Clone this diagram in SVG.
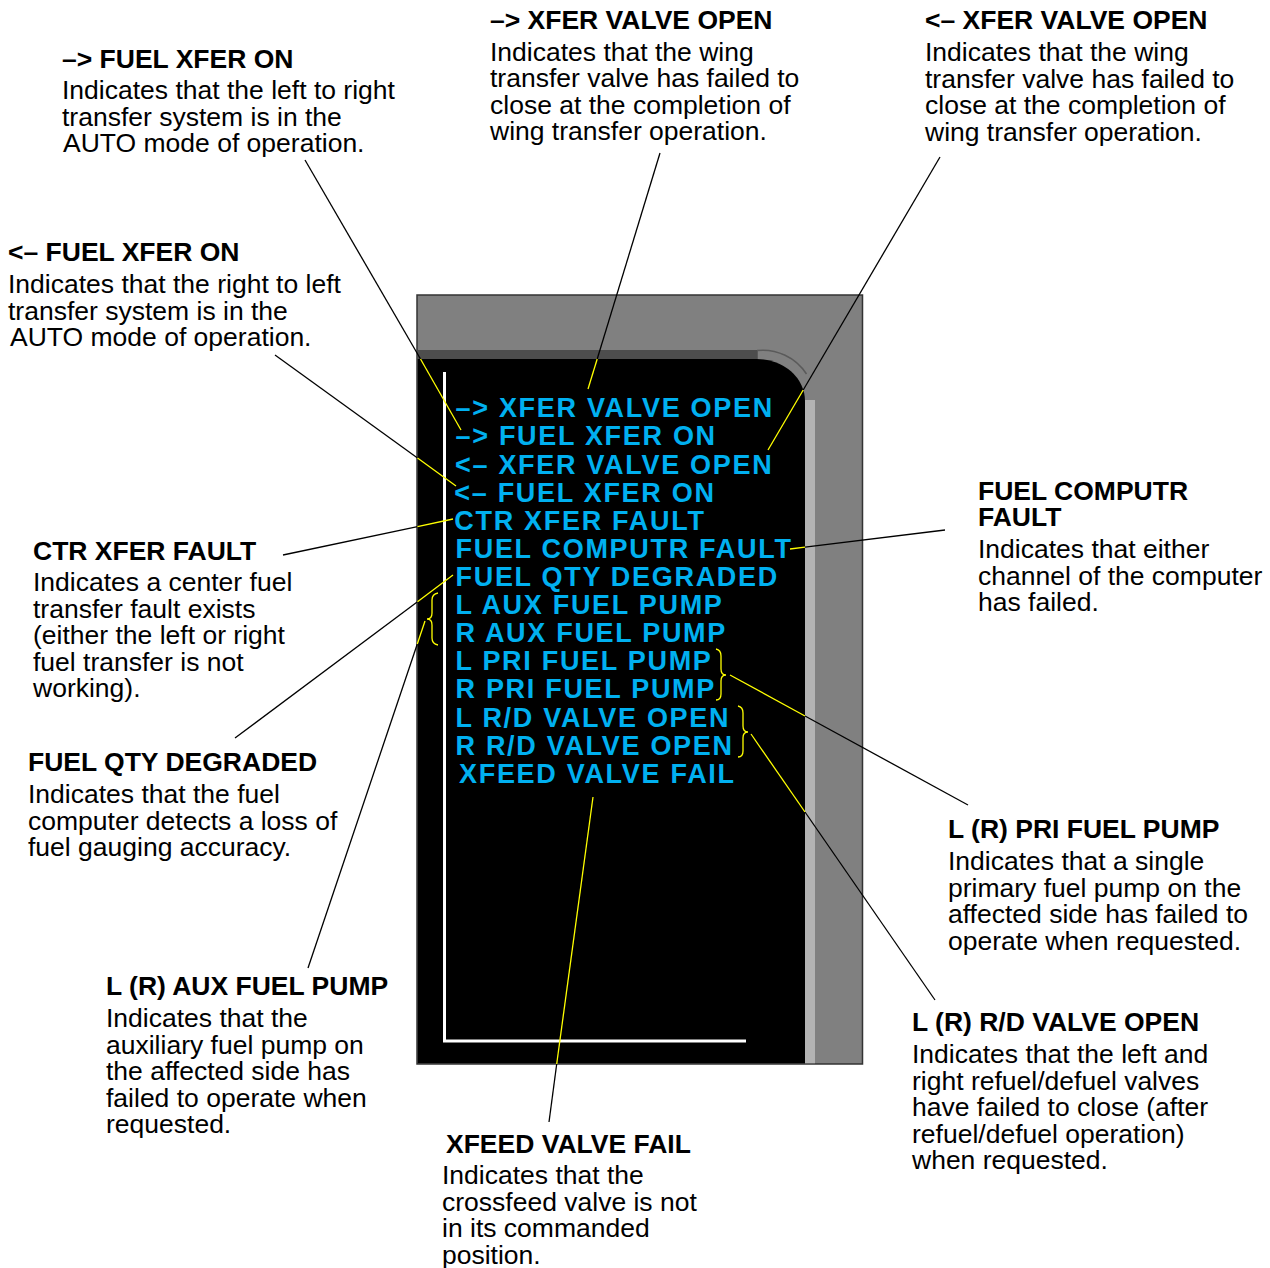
<svg xmlns="http://www.w3.org/2000/svg" width="1270" height="1268" viewBox="0 0 1270 1268">
<style>
.t{font-family:"Liberation Sans",Arial,sans-serif;font-size:26.5px;font-weight:bold;fill:#000}
.b{font-family:"Liberation Sans",Arial,sans-serif;font-size:26.5px;fill:#000}
.c{font-family:"Liberation Sans",Arial,sans-serif;font-size:27px;font-weight:bold;fill:#00B0F0;letter-spacing:1.7px}
.k{stroke:#000;stroke-width:1.3;fill:none}
.y{stroke:#FFFF00;stroke-width:1.3;fill:none}
</style>
<rect width="1270" height="1268" fill="#fff"/>
<g id="display">
<rect x="417" y="295" width="445.5" height="769" fill="#808080" stroke="#333" stroke-width="1.5"/>
<rect x="417.75" y="350" width="340" height="9" fill="#4d4d4d"/>
<path d="M757,350.5 A52,52 0 0 1 806.5,374" fill="none" stroke="#5a5a5a" stroke-width="1.5"/>
<path d="M417.75,359 H757 A48,42 0 0 1 805,401 V1063.25 H417.75 Z" fill="#000"/>
<rect x="805" y="400" width="10" height="663.25" fill="#b3b3b3"/>
<polyline points="444.5,372 444.5,1041 746,1041" fill="none" stroke="#fff" stroke-width="3"/>
<text class="c" x="455.5" y="417">–&gt; XFER VALVE OPEN</text>
<text class="c" x="455.5" y="445">–&gt; FUEL XFER ON</text>
<text class="c" x="455" y="473.5">&lt;– XFER VALVE OPEN</text>
<text class="c" x="454.3" y="501.5">&lt;– FUEL XFER ON</text>
<text class="c" x="454.3" y="529.5">CTR XFER FAULT</text>
<text class="c" x="455.5" y="558">FUEL COMPUTR FAULT</text>
<text class="c" x="455.5" y="586">FUEL QTY DEGRADED</text>
<text class="c" x="455.5" y="614">L AUX FUEL PUMP</text>
<text class="c" x="455.5" y="642">R AUX FUEL PUMP</text>
<text class="c" x="455.5" y="670">L PRI FUEL PUMP</text>
<text class="c" x="455.5" y="698">R PRI FUEL PUMP</text>
<text class="c" x="455.5" y="726.5">L R/D VALVE OPEN</text>
<text class="c" x="455.5" y="754.5">R R/D VALVE OPEN</text>
<text class="c" x="459" y="782.5">XFEED VALVE FAIL</text>
<path class="y" d="M438,593 Q432,594 432,600 L432,613 Q432,619 427,619 Q432,619 432,625 L432,638 Q432,644 438,645"/>
<path class="y" d="M716,649 Q721,650 721,656 L721,669 Q721,675 726,675 Q721,675 721,681 L721,694 Q721,700 716,700"/>
<path class="y" d="M738,706 Q743,707 743,713 L743,726 Q743,732 748,732 Q743,732 743,738 L743,751 Q743,757 738,757"/>
</g>
<g id="connectors">
<path class="k" d="M305,160 L420.5,359"/><path class="y" d="M420.5,359 L461,430"/>
<path class="k" d="M660,153 L597.2,359"/><path class="y" d="M597.2,359 L588,389"/>
<path class="k" d="M940,157 L803.2,390"/><path class="y" d="M803.2,390 L768,450"/>
<path class="k" d="M275,355 L417.5,458"/><path class="y" d="M417.5,458 L456,486"/>
<path class="k" d="M283,555 L417.5,526.6"/><path class="y" d="M417.5,526.6 L453,519"/>
<path class="k" d="M945,530 L805,547.2"/><path class="y" d="M805,547.2 L790,549"/>
<path class="k" d="M235,738 L417.5,601.8"/><path class="y" d="M417.5,601.8 L453,575"/>
<path class="k" d="M308,968 L417.3,644"/><path class="y" d="M417.3,644 L425,621"/>
<path class="y" d="M730,675 L805,716"/><path class="k" d="M805,716 L968,805"/>
<path class="y" d="M751,734 L805,812"/><path class="k" d="M805,812 L935,1000"/>
<path class="y" d="M593,797 L556.7,1064"/><path class="k" d="M556.7,1064 L549,1122"/>
</g>
<g id="label-fuel-xfer-on-right">
<text class="t" x="62" y="68">–&gt; FUEL XFER ON</text>
<text class="b" x="62" y="98.5">Indicates that the left to right</text>
<text class="b" x="62" y="125.5">transfer system is in the</text>
<text class="b" x="63" y="152">AUTO mode of operation.</text>
</g>
<g id="label-xfer-valve-open-right">
<text class="t" x="490" y="29">–&gt; XFER VALVE OPEN</text>
<text class="b" x="490" y="60.5">Indicates that the wing</text>
<text class="b" x="490" y="87">transfer valve has failed to</text>
<text class="b" x="490" y="113.5">close at the completion of</text>
<text class="b" x="490" y="140">wing transfer operation.</text>
</g>
<g id="label-xfer-valve-open-left">
<text class="t" x="925" y="29">&lt;– XFER VALVE OPEN</text>
<text class="b" x="925" y="61">Indicates that the wing</text>
<text class="b" x="925" y="87.5">transfer valve has failed to</text>
<text class="b" x="925" y="114">close at the completion of</text>
<text class="b" x="925" y="140.5">wing transfer operation.</text>
</g>
<g id="label-fuel-xfer-on-left">
<text class="t" x="8" y="261">&lt;– FUEL XFER ON</text>
<text class="b" x="8" y="293">Indicates that the right to left</text>
<text class="b" x="8" y="319.5">transfer system is in the</text>
<text class="b" x="10" y="346">AUTO mode of operation.</text>
</g>
<g id="label-ctr-xfer-fault">
<text class="t" x="33" y="560">CTR XFER FAULT</text>
<text class="b" x="33" y="591">Indicates a center fuel</text>
<text class="b" x="33" y="617.5">transfer fault exists</text>
<text class="b" x="33" y="644">(either the left or right</text>
<text class="b" x="33" y="670.5">fuel transfer is not</text>
<text class="b" x="33" y="697">working).</text>
</g>
<g id="label-fuel-qty-degraded">
<text class="t" x="28" y="771">FUEL QTY DEGRADED</text>
<text class="b" x="28" y="803">Indicates that the fuel</text>
<text class="b" x="28" y="829.5">computer detects a loss of</text>
<text class="b" x="28" y="856">fuel gauging accuracy.</text>
</g>
<g id="label-aux-fuel-pump">
<text class="t" x="106" y="995">L (R) AUX FUEL PUMP</text>
<text class="b" x="106" y="1027">Indicates that the</text>
<text class="b" x="106" y="1053.5">auxiliary fuel pump on</text>
<text class="b" x="106" y="1080">the affected side has</text>
<text class="b" x="106" y="1106.5">failed to operate when</text>
<text class="b" x="106" y="1133">requested.</text>
</g>
<g id="label-xfeed-valve-fail">
<text class="t" x="446" y="1153">XFEED VALVE FAIL</text>
<text class="b" x="442" y="1184">Indicates that the</text>
<text class="b" x="442" y="1210.5">crossfeed valve is not</text>
<text class="b" x="442" y="1237">in its commanded</text>
<text class="b" x="442" y="1263.5">position.</text>
</g>
<g id="label-fuel-computr-fault">
<text class="t" x="978" y="500">FUEL COMPUTR</text>
<text class="t" x="978" y="526">FAULT</text>
<text class="b" x="978" y="558">Indicates that either</text>
<text class="b" x="978" y="584.5">channel of the computer</text>
<text class="b" x="978" y="611">has failed.</text>
</g>
<g id="label-pri-fuel-pump">
<text class="t" x="948" y="838">L (R) PRI FUEL PUMP</text>
<text class="b" x="948" y="870">Indicates that a single</text>
<text class="b" x="948" y="896.5">primary fuel pump on the</text>
<text class="b" x="948" y="923">affected side has failed to</text>
<text class="b" x="948" y="949.5">operate when requested.</text>
</g>
<g id="label-rd-valve-open">
<text class="t" x="912" y="1031">L (R) R/D VALVE OPEN</text>
<text class="b" x="912" y="1063">Indicates that the left and</text>
<text class="b" x="912" y="1089.5">right refuel/defuel valves</text>
<text class="b" x="912" y="1116">have failed to close (after</text>
<text class="b" x="912" y="1142.5">refuel/defuel operation)</text>
<text class="b" x="912" y="1169">when requested.</text>
</g>
</svg>
